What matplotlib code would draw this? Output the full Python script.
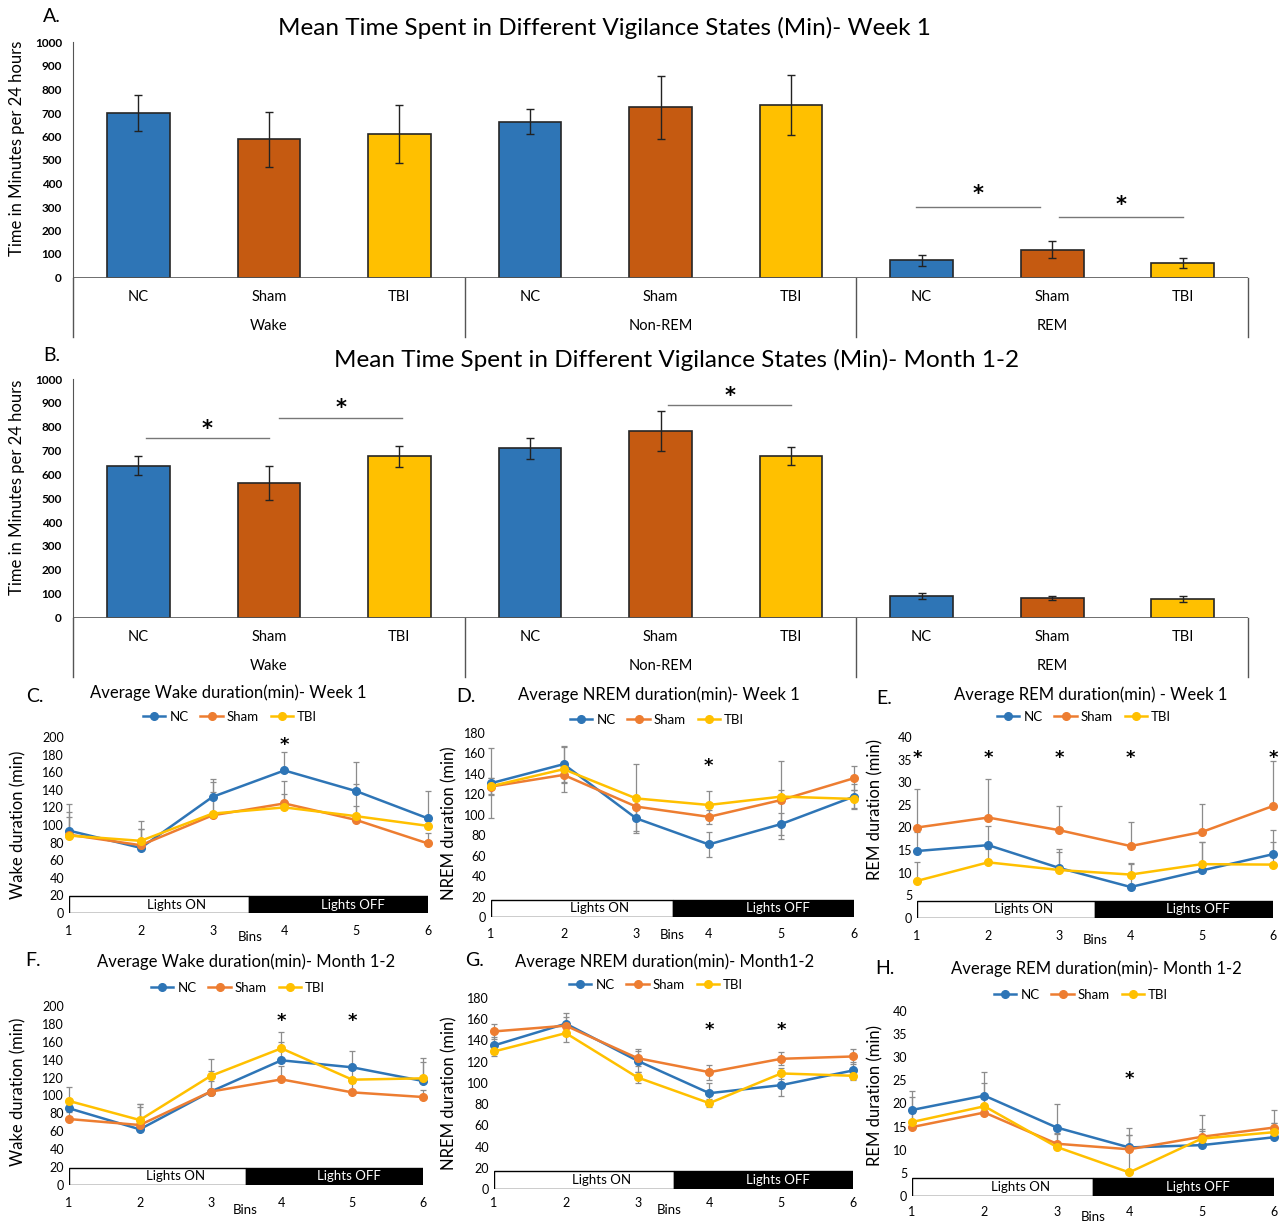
import matplotlib.pyplot as plt
from matplotlib.patches import Rectangle
from matplotlib.lines import Line2D
from matplotlib.transforms import blended_transform_factory

plt.rcParams['font.family'] = ['Lato', 'DejaVu Sans']

# group / state labels
groups = ['NC', 'Sham', 'TBI']
states = ['Wake', 'Non-REM', 'REM']
bins = [1, 2, 3, 4, 5, 6]

# 24 h totals (min), order: Wake, Non-REM, REM
wk1_nc = [700, 663, 74]
wk1_sham = [588, 724, 119]
wk1_tbi = [612, 733, 62]
wk1_nc_err = [75, 52, 23]
wk1_sham_err = [116, 134, 38]
wk1_tbi_err = [123, 128, 21]

mo_nc = [637, 710, 89]
mo_sham = [563, 781, 82]
mo_tbi = [676, 676, 79]
mo_nc_err = [41, 44, 12]
mo_sham_err = [71, 84, 9]
mo_tbi_err = [45, 38, 12]

# significance brackets: (x start, x end, bar y, star y)
wk1_sig = [(5.96, 6.91, 301, 354), (7.05, 8.0, 259, 308)]
mo_sig = [(0.06, 1.0, 752, 791), (1.08, 2.02, 837, 879), (4.06, 5.0, 890, 927)]

# binned durations (min)
c_nc = [93.6, 74, 132, 162, 138.5, 107.5]
c_sham = [89, 77, 111, 124.5, 105.7, 79]
c_tbi = [88, 82, 113, 120, 110, 99]
c_nc_err = [30, 30, 20, 21, 33, 31]
c_sham_err = [26, 18, 38, 25, 41, 12]
c_tbi_err = [21, 13, 25, 15, 12, 10]

d_nc = [130.9, 149.5, 96.5, 71, 91, 117.8]
d_sham = [127.6, 139, 108, 98, 114.5, 135.8]
d_tbi = [128, 144.6, 116, 109.6, 117.8, 115.5]
d_nc_err = [34, 18, 12, 12, 11, 12]
d_sham_err = [8, 7, 8, 7, 38, 12]
d_tbi_err = [8, 22, 34, 14, 6, 9]

e_nc = [14.8, 16.1, 11.05, 6.85, 10.5, 14.1]
e_sham = [20.0, 22.2, 19.4, 15.9, 19.0, 24.75]
e_tbi = [8.2, 12.3, 10.6, 9.6, 11.9, 11.8]
e_nc_err = [4.2, 4.2, 4.3, 5, 6.3, 5.3]
e_sham_err = [8.6, 8.6, 5.3, 5.3, 6.3, 10]
e_tbi_err = [4.2, 3, 4, 2.5, 5, 5]

f_nc = [85.7, 62.2, 104.3, 139.3, 131.5, 116.2]
f_sham = [73.7, 67, 104.3, 118, 103.5, 98.3]
f_tbi = [93.9, 72.6, 121.8, 152.7, 117.7, 119.2]
f_nc_err = [10, 28, 23, 21, 18, 26]
f_sham_err = [8, 20, 12, 15, 10, 8]
f_tbi_err = [16, 18, 19, 18.6, 12, 18.6]

g_nc = [135.3, 155.8, 120.8, 90.3, 97.9, 111.7]
g_sham = [148.5, 153.9, 123.3, 110.1, 122.7, 124.9]
g_tbi = [129.6, 146.9, 105.1, 80.9, 108.9, 106.7]
g_nc_err = [8, 10, 11, 10, 10, 8]
g_sham_err = [7, 8, 7, 7, 6.3, 7]
g_tbi_err = [4.7, 8, 5, 4, 5, 4]

h_nc = [18.6, 21.7, 14.8, 10.5, 11.0, 12.7]
h_sham = [14.9, 18.05, 11.3, 10.1, 12.8, 14.8]
h_tbi = [16.0, 19.4, 10.6, 5.1, 12.4, 13.8]
h_nc_err = [4.1, 5.1, 5.2, 4.3, 3, 3.1]
h_sham_err = [3, 3, 2.1, 3, 4.7, 3.9]
h_tbi_err = [5.4, 5.1, 3, 8.1, 2, 2]

bar_colors = ['#2E75B6', '#C55A11', '#FFC000']
line_colors = ['#2E75B6', '#ED7D31', '#FFC000']

W, H = 1282, 1222
fig = plt.figure(figsize=(W / 100, H / 100), dpi=100)


def add_ax(left, top, right, bottom):
    return fig.add_axes([left / W, 1 - bottom / H, (right - left) / W, (bottom - top) / H])


def ftext(x, y, s, **kw):
    fig.text(x / W, 1 - y / H, s, **kw)


def bar_panel(top, bottom, letter, title, title_x, title_y, ylab_y,
              means, errs, sigs):
    ax = add_ax(73, top, 1248, bottom)
    for g in range(3):
        xs = [3 * s + g for s in range(3)]
        ax.bar(xs, means[g], width=0.48, color=bar_colors[g], edgecolor='#262626',
               linewidth=1.2, zorder=2)
        ax.errorbar(xs, means[g], yerr=errs[g], fmt='none', ecolor='#222222',
                    elinewidth=1, capsize=3, capthick=1, zorder=3)
    ax.set_xlim(-0.5, 8.5)
    ax.set_ylim(0, 1000)
    ax.set_yticks(range(0, 1001, 100))
    ax.tick_params(axis='y', length=0, labelsize=8.5, pad=8)
    for lab in ax.get_yticklabels():
        lab.set_fontweight('bold')
    ax.set_xticks([])
    for sp in ['top', 'right', 'bottom']:
        ax.spines[sp].set_visible(False)
    ax.spines['left'].set_color('#555555')
    ax.axhline(0, color='#555555', lw=1.2, zorder=4)

    tr = blended_transform_factory(ax.transData, ax.transAxes)
    h = bottom - top
    for xd in [-0.5, 2.5, 5.5, 8.5]:
        ax.plot([xd, xd], [0, -59 / h], color='#555555', lw=1, transform=tr, clip_on=False)
    for s in range(3):
        for g in range(3):
            ax.text(3 * s + g, -19.5 / h, groups[g], transform=tr, ha='center', va='center',
                    fontsize=10.5)
        ax.text(3 * s + 1, -48.5 / h, states[s], transform=tr, ha='center', va='center',
                fontsize=10.5)

    for x0, x1, yb, ys in sigs:
        ax.plot([x0, x1], [yb, yb], color='#777777', lw=1)
        ax.text((x0 + x1) / 2, ys, '*', ha='center', va='center', fontsize=15,
                fontweight='bold', family='DejaVu Sans')

    ftext(52, letter[1], letter[0], ha='center', va='center', fontsize=14)
    ftext(title_x, title_y, title, ha='center', va='center', fontsize=17.5)
    ftext(17, ylab_y, 'Time in Minutes per 24 hours', ha='center', va='center',
          rotation=90, fontsize=12)


bar_panel(42.5, 277.5, ('A.', 16),
          'Mean Time Spent in Different Vigilance States (Min)- Week 1', 604, 28, 148,
          [wk1_nc, wk1_sham, wk1_tbi], [wk1_nc_err, wk1_sham_err, wk1_tbi_err], wk1_sig)
bar_panel(379, 617.5, ('B.', 355),
          'Mean Time Spent in Different Vigilance States (Min)- Month 1-2', 677, 360, 487,
          [mo_nc, mo_sham, mo_tbi], [mo_nc_err, mo_sham_err, mo_tbi_err], mo_sig)


def line_panel(box, ymax, ystep, series, errs, both_ways, stars, star_y, title, title_xy,
               letter_xy, letter, legend_xy, ylabel, ylab_xy, bins_xy, tick_pad):
    left, top, right, bottom = box
    ax = add_ax(left, top, right, bottom)
    band = 0.095 * ymax
    ax.add_patch(Rectangle((1, 0), 2.5, band, facecolor='white', edgecolor='black',
                           lw=1, zorder=1))
    ax.add_patch(Rectangle((3.5, 0), 2.5, band, facecolor='black', edgecolor='black',
                           lw=1, zorder=1))
    ax.text(2.5, band / 2, 'Lights ON', ha='center', va='center', fontsize=9.5, zorder=2)
    ax.text(4.95, band / 2, 'Lights OFF', ha='center', va='center', fontsize=9.5,
            color='white', zorder=2)
    handles = []
    for vals, err, col, name in zip(series, errs, line_colors, groups):
        yerr = err if both_ways else [[0] * len(err), err]
        ax.errorbar(bins, vals, yerr=yerr, fmt='none', ecolor='#8c8c8c', elinewidth=0.9,
                    capsize=2.5, capthick=0.9, zorder=3, clip_on=False)
        ax.plot(bins, vals, color=col, lw=1.8, marker='o', markersize=5.5, zorder=4,
                clip_on=False)
        handles.append(Line2D([], [], color=col, lw=1.8, marker='o', markersize=5.5,
                              label=name))
    for b in stars:
        ax.text(b, star_y, '*', ha='center', va='center', fontsize=13,
                fontweight='bold', family='DejaVu Sans')
    ax.set_xlim(1, 6)
    ax.set_ylim(0, ymax)
    ax.set_xticks(bins)
    ax.set_yticks(range(0, ymax + 1, ystep))
    ax.tick_params(length=0, labelsize=9)
    ax.tick_params(axis='x', pad=tick_pad)
    for sp in ax.spines.values():
        sp.set_visible(False)
    ftext(title_xy[0], title_xy[1], title, ha='center', va='center', fontsize=12)
    ftext(letter_xy[0], letter_xy[1], letter, ha='center', va='center', fontsize=14)
    ftext(ylab_xy[0], ylab_xy[1], ylabel, ha='center', va='center', rotation=90,
          fontsize=12)
    ftext(bins_xy[0], bins_xy[1], 'Bins', ha='center', va='center', fontsize=9.5)
    fig.legend(handles=handles, loc='center', ncol=3, frameon=False, fontsize=9.5,
               handlelength=1.7, columnspacing=0.9, handletextpad=0.3,
               bbox_to_anchor=(legend_xy[0] / W, 1 - legend_xy[1] / H))


line_panel((69, 737, 428, 913), 200, 20, [c_nc, c_sham, c_tbi],
           [c_nc_err, c_sham_err, c_tbi_err], False, [4], 191,
           'Average Wake duration(min)- Week 1', (228, 693), (35, 697), 'C.', (230, 717),
           'Wake duration (min)', (18, 825), (250, 937), 8.6)
line_panel((491, 733, 854, 917), 180, 20, [d_nc, d_sham, d_tbi],
           [d_nc_err, d_sham_err, d_tbi_err], True, [4], 148,
           'Average NREM duration(min)- Week 1', (659, 695), (466, 697), 'D.', (657, 720),
           'NREM duration (min)', (449, 823), (672, 935), 8)
line_panel((917, 737, 1273, 918), 40, 5, [e_nc, e_sham, e_tbi],
           [e_nc_err, e_sham_err, e_tbi_err], False, [1, 2, 3, 4, 6], 35.3,
           'Average REM duration(min) - Week 1', (1091, 695), (884, 698), 'E.', (1084, 717),
           'REM duration (min)', (875, 810), (1095, 940), 8.6)
line_panel((69, 1006, 423, 1185), 200, 20, [f_nc, f_sham, f_tbi],
           [f_nc_err, f_sham_err, f_tbi_err], False, [4, 5], 183,
           'Average Wake duration(min)- Month 1-2', (246, 962), (33, 960), 'F.', (238, 988),
           'Wake duration (min)', (18, 1092), (245, 1210), 8.6)
line_panel((494, 998, 853, 1189), 180, 20, [g_nc, g_sham, g_tbi],
           [g_nc_err, g_sham_err, g_tbi_err], True, [4, 5], 150,
           'Average NREM duration(min)- Month1-2', (665, 962), (475, 960), 'G.', (656, 985),
           'NREM duration (min)', (449, 1093), (669, 1210), 5.8)
line_panel((912, 1011, 1274, 1196), 40, 5, [h_nc, h_sham, h_tbi],
           [h_nc_err, h_sham_err, h_tbi_err], False, [4], 25.2,
           'Average REM duration(min)- Month 1-2', (1096, 969), (885, 968), 'H.', (1081, 995),
           'REM duration (min)', (875, 1095), (1093, 1217), 7.5)

fig.savefig('out.png', dpi=100)
